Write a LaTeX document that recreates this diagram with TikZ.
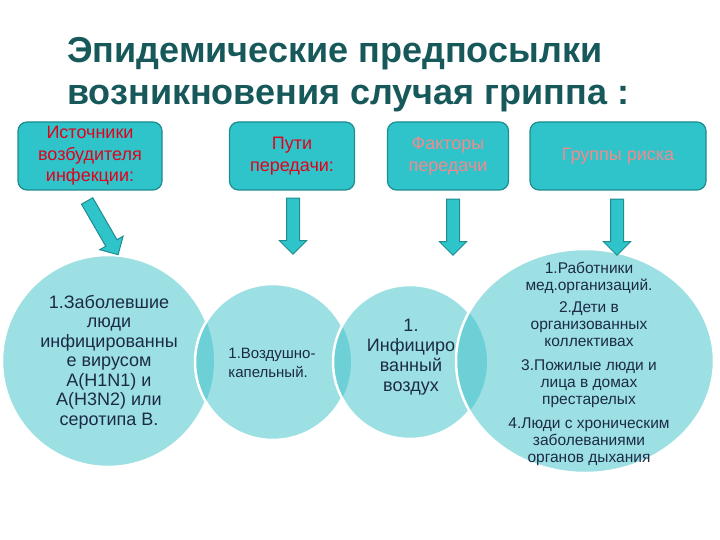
\documentclass[tikz,border=0pt]{standalone}
\usepackage{fontspec}
\setmainfont{Liberation Sans}
\usetikzlibrary{shapes.arrows}

\definecolor{boxfill}{HTML}{2EC4C9}
\definecolor{boxedge}{HTML}{1E8C91}
\definecolor{circfill}{HTML}{9DE0E4}
\definecolor{lensfill}{HTML}{6CD0D6}
\definecolor{darktext}{HTML}{1C2B45}
\definecolor{titlecol}{HTML}{17595A}
\definecolor{redtext}{HTML}{E3001B}
\definecolor{pinktext}{HTML}{F28A8E}

\tikzset{
	headbox/.style={draw=boxedge, line width=1.2pt, fill=boxfill, rounded corners=9pt,
		align=center, inner sep=0pt, minimum height=68pt, font=\fontsize{18}{21.5}\selectfont},
	blockarr/.style={single arrow, draw=boxedge, line width=1pt, fill=boxfill,
		inner xsep=0pt, inner ysep=6pt, single arrow head extend=7pt},
	bubble/.style={circle, inner sep=0pt},
	rim/.style={draw=white, line width=2.5pt}
}

\begin{document}
\begin{tikzpicture}[x=1pt, y=-1pt]
	\useasboundingbox (0,0) rectangle (720,540);

	% title
	\node[anchor=north west, text=titlecol, align=left, inner sep=0pt,
		font=\fontsize{36}{42}\selectfont\bfseries] (title)
		at (67,37) {Эпидемические предпосылки\\возникновения случая гриппа :};

	% header boxes
	\node[headbox, minimum width=144pt, text=redtext] (b1) at (90,156) {Источники\\возбудителя\\инфекции:};
	\node[headbox, minimum width=125pt, text=redtext] (b2) at (292,156) {Пути\\передачи:};
	\node[headbox, minimum width=121pt, text=pinktext] (b3) at (448,156) {Факторы\\передачи};
	\node[headbox, minimum width=176pt, text=pinktext] (b4) at (618,156) {Группы риска};

	% circles
	\node[bubble, minimum size=212pt] (c1) at (108,361) {};
	\node[bubble, minimum size=156pt] (c2) at (273,362) {};
	\node[bubble, minimum size=154pt] (c3) at (410,362) {};
	\node[bubble, minimum size=224pt] (c4) at (585,361) {};

	\fill[circfill] (c1.center) circle (106);
	\draw[rim] (c1.center) circle (106);

	\fill[circfill] (c2.center) circle (78);
	\begin{scope}
		\clip (c1.center) circle (106);
		\fill[lensfill] (c2.center) circle (78);
	\end{scope}
	\draw[rim] (c2.center) circle (78);

	\fill[circfill] (c3.center) circle (77);
	\begin{scope}
		\clip (c2.center) circle (78);
		\fill[lensfill] (c3.center) circle (77);
	\end{scope}
	\draw[rim] (c3.center) circle (77);

	\fill[circfill] (c4.center) ellipse [x radius=129, y radius=112];
	\begin{scope}
		\clip (c3.center) circle (77);
		\fill[lensfill] (c4.center) ellipse [x radius=129, y radius=112];
	\end{scope}
	\draw[rim] (c4.center) ellipse [x radius=129, y radius=112];

	% arrows
	\node[blockarr, minimum height=62pt, rotate=-60] (a1) at (101,225) {};
	\node[blockarr, minimum height=56pt, rotate=-90] (a2) at (293,223) {};
	\node[blockarr, minimum height=56pt, rotate=-90] (a3) at (453,224) {};
	\node[blockarr, minimum height=56pt, rotate=-90] (a4) at (617,224) {};

	% circle texts
	\node[text=darktext, align=center, font=\fontsize{18}{19.5}\selectfont] (t1) at (109,362)
		{1.Заболевшие\\люди\\инфицированны\\е вирусом\\A(H1N1) и\\A(H3N2) или\\серотипа В.};
	\node[text=darktext, align=left, font=\fontsize{15}{19}\selectfont] (t2) at (272,363)
		{1.Воздушно-\\капельный.};
	\node[text=darktext, align=center, font=\fontsize{18}{20}\selectfont] (t3) at (411,357)
		{1.\\Инфициро\\ванный\\воздух};
	\node[text=darktext, align=center, font=\fontsize{15.5}{17}\selectfont] (t4) at (589,364)
		{1.Работники\\мед.организаций.\\[5pt]2.Дети в\\организованных\\коллективах\\[7pt]3.Пожилые люди и\\лица в домах\\престарелых\\[7pt]4.Люди с хроническим\\заболеваниями\\органов дыхания};
\end{tikzpicture}
\end{document}
